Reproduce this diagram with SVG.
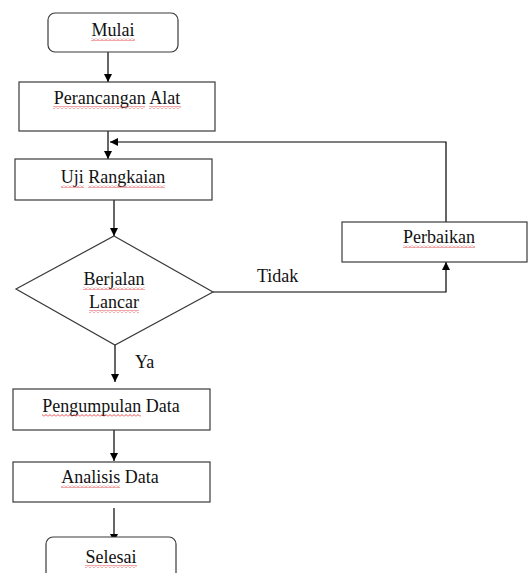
<svg xmlns="http://www.w3.org/2000/svg" width="528" height="573" viewBox="0 0 528 573">
<style>
.box{fill:#fff;stroke:#3a3a3a;stroke-width:1.2}
.ln{fill:none;stroke:#000;stroke-width:1.2}
.t{font-family:"Liberation Serif","Times New Roman",serif;font-size:18px;fill:#111}
.c{text-anchor:middle}
.sq{fill:url(#squig)}
</style>
<defs>
<marker id="ah" viewBox="0 0 10 10" refX="10" refY="5" markerWidth="8" markerHeight="8" markerUnits="userSpaceOnUse" orient="auto">
<path d="M0,0 L10,5 L0,10 Z" fill="#000"/>
</marker>
<pattern id="squig" width="4" height="3" patternUnits="userSpaceOnUse">
<path d="M0,2.5 L2,0.5 L4,2.5" fill="none" stroke="#d22" stroke-width="0.8"/>
</pattern>
</defs>
<rect width="528" height="573" fill="#fff"/>
<g id="connectors">
<path class="ln" d="M108,52 V82" marker-end="url(#ah)"/>
<path class="ln" d="M108,131 V159" marker-end="url(#ah)"/>
<path class="ln" d="M446,222 V142 H110" marker-end="url(#ah)"/>
<path class="ln" d="M114,200 V236" marker-end="url(#ah)"/>
<path class="ln" d="M213,292 H446 V262" marker-end="url(#ah)"/>
<path class="ln" d="M115,345 V382" marker-end="url(#ah)"/>
<path class="ln" d="M114,430 V461" marker-end="url(#ah)"/>
<path class="ln" d="M114,508 V542" marker-end="url(#ah)"/>
<text class="t" x="257" y="282">Tidak</text>
<text class="t" x="135" y="368">Ya</text>
</g>
<g id="mulai">
<rect class="box" x="48" y="13" width="130" height="39" rx="7"/>
<text class="t c" x="113" y="36">Mulai</text>
<rect class="sq" x="91" y="38" width="44" height="3"/>
</g>
<g id="perancangan">
<rect class="box" x="19" y="82" width="196" height="49"/>
<text class="t c" x="117" y="104">Perancangan Alat</text>
<rect class="sq" x="53" y="106" width="92" height="3"/>
<rect class="sq" x="149" y="106" width="32" height="3"/>
</g>
<g id="uji">
<rect class="box" x="15" y="159" width="197" height="41"/>
<text class="t c" x="113" y="183">Uji Rangkaian</text>
<rect class="sq" x="61" y="185" width="23" height="3"/>
<rect class="sq" x="88" y="185" width="77" height="3"/>
</g>
<g id="berjalan">
<polygon class="box" points="114,236 213,292 115,345 16,289"/>
<text class="t c" x="114" y="285">Berjalan</text>
<text class="t c" x="114" y="308">Lancar</text>
<rect class="sq" x="83" y="287" width="62" height="3"/>
<rect class="sq" x="89" y="310" width="50" height="3"/>
</g>
<g id="perbaikan">
<rect class="box" x="342" y="222" width="185" height="40"/>
<text class="t c" x="439" y="243">Perbaikan</text>
<rect class="sq" x="403" y="245" width="72" height="3"/>
</g>
<g id="pengumpulan">
<rect class="box" x="13" y="389" width="197" height="41"/>
<text class="t c" x="111" y="412">Pengumpulan Data</text>
<rect class="sq" x="42" y="414" width="99" height="3"/>
</g>
<g id="analisis">
<rect class="box" x="13" y="462" width="197" height="40"/>
<text class="t c" x="110" y="483">Analisis Data</text>
<rect class="sq" x="61" y="485" width="59" height="3"/>
</g>
<g id="selesai">
<rect class="box" x="46" y="537" width="130" height="50" rx="7"/>
<text class="t c" x="111" y="563">Selesai</text>
<rect class="sq" x="85" y="565" width="52" height="3"/>
</g>
</svg>
